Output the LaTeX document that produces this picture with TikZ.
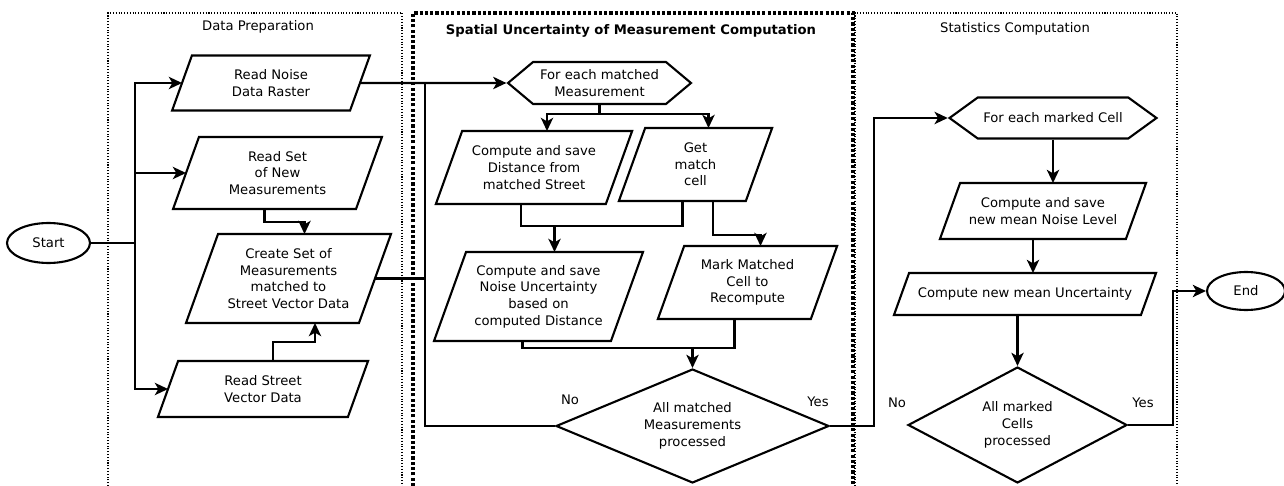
\documentclass[tikz,border=0pt]{standalone}
\usepackage{fontspec}
\setmainfont{DejaVu Sans}
\usetikzlibrary{shapes.geometric, shapes.symbols, arrows.meta, calc}

\tikzset{
  io/.style={rectangle, align=center, inner sep=1pt, outer sep=0pt},
  hexa/.style={signal, signal to=west and east, draw, line width=1.2pt, align=center, inner sep=2pt},
  decide/.style={diamond, draw, line width=1.2pt, align=center, inner sep=1pt},
  term/.style={ellipse, draw, line width=1.2pt},
  flow/.style={line width=1.2pt, -{Stealth[length=7.5pt, width=7pt, inset=2pt]}},
  wire/.style={line width=1.2pt},
  phasebox/.style={densely dotted, line width=0.6pt},
  mainbox/.style={line width=1.8pt, dash pattern=on 1.8pt off 1.2pt},
}

\begin{document}
\begin{tikzpicture}[x=0.02cm, y=-0.02cm, every node/.style={font=\fontsize{7.5}{9.5}\selectfont}]
            \useasboundingbox (0,0) rectangle (1284,486);

            \draw[phasebox] (108,486) |- (402,13) -- (402,486);
            \draw[mainbox] (413,486) |- (853,13) -- (853,486);
            \draw[phasebox] (855,486) |- (1177,13) -- (1177,486);
            \node (t1) at (258,27) {Data Preparation};
            \node (t2) at (631,31) {\bfseries Spatial Uncertainty of Measurement Computation};
            \node (t3) at (1015,29) {Statistics Computation};

            \node[term, minimum width=1.66cm, minimum height=0.8cm] (start) at (48.5,243) {Start};
            \node[io, minimum width=3.56cm, minimum height=1.1cm] (rn) at (271,83) {Read Noise\\Data Raster};
            \node[io, minimum width=3.66cm, minimum height=1.44cm] (rs) at (277.5,173) {Read Set\\of New\\Measurements};
            \node[io, minimum width=3.46cm, minimum height=1.78cm] (cs) at (288.5,278.5) {Create Set of\\Measurements\\matched to\\Street Vector Data};
            \node[io, minimum width=3.8cm, minimum height=1.12cm] (rv) at (263,389) {Read Street\\Vector Data};

            \node[hexa, signal pointer angle=80, minimum width=3.66cm, minimum height=0.84cm] (fm) at (599.5,83) {For each matched\\Measurement};
            \node[io, minimum width=3.4cm, minimum height=1.46cm] (cd) at (534,167.5) {Compute and save\\Distance from\\matched Street};
            \node[io, minimum width=2.54cm, minimum height=1.46cm] (gc) at (695.5,164.5) {Get\\match\\cell};
            \node[io, minimum width=3.54cm, minimum height=1.78cm] (cu) at (538.5,296.5) {Compute and save\\Noise Uncertainty\\based on\\computed Distance};
            \node[io, minimum width=3.06cm, minimum height=1.46cm] (mc) at (747.5,282.5) {Mark Matched\\Cell to\\Recompute};
            \node[decide, aspect=2.4, minimum width=5.46cm, minimum height=2.28cm] (am) at (692.5,426) {All matched\\Measurements\\processed};
            \node (no1) at (570,400) {No};
            \node (yes1) at (818,402) {Yes};

            \node[hexa, signal pointer angle=72, minimum width=4.14cm, minimum height=0.82cm] (fc) at (1053,118) {For each marked Cell};
            \node[io, minimum width=3.72cm, minimum height=1.12cm] (nl) at (1043,211) {Compute and save\\new mean Noise Level};
            \node[io, minimum width=4.94cm, minimum height=0.84cm] (nu) at (1025,294) {Compute new mean Uncertainty};
            \node[decide, aspect=1.9, minimum width=4.38cm, minimum height=2.32cm] (ac) at (1017.5,425) {All marked\\Cells\\processed};
            \node (no2) at (897,403) {No};
            \node (yes2) at (1143,403) {Yes};
            \node[term, minimum width=1.56cm, minimum height=0.76cm] (end) at (1246,291) {End};

            \foreach \k in {rn,rs,cs,rv,cd,gc,cu,mc,nl,nu}
              \draw[wire] let \p1=(\k.north), \p2=(\k.south), \n1={0.18*(\y1-\y2)} in
                ([xshift=\n1]\k.north west) -- ([xshift=\n1]\k.north east)
                -- ([xshift=-\n1]\k.south east) -- ([xshift=-\n1]\k.south west) -- cycle;

            \coordinate (fork) at (135,243);
            \coordinate (merge) at (425,83);

            \draw[wire] (start) -- (fork);
            \draw[flow] (fork) |- (rn);
            \draw[flow] (fork) |- (rs);
            \draw[flow] (fork) |- (rv);
            \draw[flow] ([xshift=-0.26cm]rs.south) -- ++(0,13) -| ([xshift=0.32cm]cs.north);
            \draw[flow] ([xshift=0.2cm]rv.north) -- ++(0,-19) -| ([xshift=0.53cm]cs.south);

            \draw[flow] (rn) -- (fm);
            \draw[wire] (cs) -- (cs -| merge);
            \draw[wire] (am) -| (merge);
            \draw[flow] (fm.south) -- ++(0,9) -| ([xshift=0.26cm]cd.north);
            \draw[flow] (fm.south) -- ++(0,9) -| ([xshift=0.26cm]gc.north);
            \draw[wire] ([xshift=-0.26cm]cd.south) -- ++(0,22) -| ([xshift=-0.26cm]gc.south);
            \draw[flow] ([xshift=0.32cm]cu.north) ++(0,-26) -- ([xshift=0.32cm]cu.north);
            \draw[flow] ([xshift=0.35cm]gc.south) -- ++(0,34) -| ([xshift=0.26cm]mc.north);
            \draw[wire] ([xshift=-0.32cm]cu.south) -- ++(0,7) -| ([xshift=-0.26cm]mc.south);
            \draw[flow] (am.north) ++(0,-21) -- (am.north);
            \draw[flow] (am.east) -- ++(44,0) |- (fc.west);

            \draw[flow] (fc.south) -- (fc.south |- nl.north);
            \draw[flow] ([xshift=-0.2cm]nl.south) -- ([xshift=-0.2cm]nl.south |- nu.north);
            \draw[flow] ([xshift=-0.15cm]nu.south) -- ([xshift=-0.15cm]nu.south |- ac.north);
            \draw[flow] (ac.east) -- ++(45,0) |- (end.west);
\end{tikzpicture}
\end{document}
